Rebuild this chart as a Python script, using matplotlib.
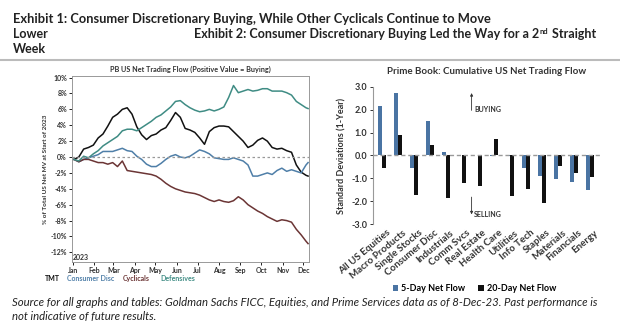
import numpy as np
import pandas as pd
from matplotlib import pyplot as plt
from matplotlib.lines import Line2D
from matplotlib.transforms import offset_copy

plt.rcParams['font.family'] = ['Lato', 'DejaVu Sans']

# ---- Exhibit 1: weekly readings of PB US net trading flow (% of net MV)
week_dates = list(pd.date_range('2023-01-03', '2023-12-05', freq='7D')) + [pd.Timestamp('2023-12-08')]

tmt = [-0.3, 0.0, 1.0, 1.2, 1.5, 2.4, 2.9, 3.9, 5.0, 5.4, 6.0, 6.2, 5.4, 3.8, 2.8, 2.2, 2.7,
       2.9, 3.4, 3.7, 4.6, 5.6, 5.0, 3.6, 3.4, 3.1, 2.4, 1.6, 3.2, 3.7, 3.9, 3.9, 3.8, 3.2,
       2.6, 2.0, 1.2, 1.5, 2.1, 2.4, 2.0, 1.2, 1.0, 1.1, 0.8, 0.6, -1.0, -1.9, -2.3, -2.4]
defensives = [-0.3, -0.5, 0.1, -0.1, 0.4, 0.8, 1.4, 1.8, 2.2, 2.6, 3.3, 3.5, 3.5, 3.3, 3.7,
              4.1, 4.5, 5.0, 5.3, 5.8, 6.3, 7.0, 7.1, 6.6, 6.2, 5.9, 5.7, 5.8, 6.0, 5.8, 6.0,
              6.3, 7.5, 9.0, 8.1, 8.3, 8.5, 8.3, 8.4, 8.6, 8.6, 8.3, 8.3, 8.3, 8.1, 7.8, 7.0,
              6.6, 6.2, 6.1]
consumer_disc = [-0.3, -0.6, -0.3, -0.1, 0.1, 0.3, 0.7, 0.7, 0.7, 0.9, 1.1, 0.8, 0.7, 0.1,
                 -0.3, -0.9, -1.2, -1.2, -0.8, -0.3, 0.1, 0.3, 0.0, -0.1, 0.1, 0.5, 0.9, 0.7,
                 0.4, -0.1, -0.2, -0.3, -0.3, -0.1, -0.3, -0.5, -1.0, -2.4, -2.4, -2.2, -2.0,
                 -2.2, -1.7, -1.4, -1.8, -1.6, -1.8, -2.0, -1.0, -0.7]
cyclicals = [-0.3, -0.6, -0.3, -0.3, -0.5, -0.7, -0.7, -0.9, -0.7, -1.2, -0.5, -1.7, -1.8,
             -1.9, -2.0, -2.1, -2.2, -2.4, -2.8, -3.3, -3.7, -4.0, -4.2, -4.4, -4.5, -4.6,
             -4.8, -5.1, -5.4, -5.6, -5.4, -5.6, -5.7, -5.5, -5.0, -5.4, -6.0, -6.4, -6.8,
             -7.1, -7.5, -7.8, -8.1, -7.9, -8.0, -8.2, -9.1, -9.8, -10.6, -10.9]

series_names = ['TMT', 'Consumer Disc', 'Cyclicals', 'Defensives']
series_colors = ['#111111', '#4f7fa8', '#6b3535', '#3f8c84']

# ---- Exhibit 2: prime book z-scores
sectors = ['All US Equities', 'Macro Products', 'Single Stocks', 'Consumer Disc', 'Industrials',
           'Comm Svcs', 'Real Estate', 'Health Care', 'Utilities', 'Info Tech', 'Staples',
           'Materials', 'Financials', 'Energy']
flow_5d = [2.15, 2.75, -0.55, 1.5, 0.15, 0.03, 0.0, -0.03, -0.02, -0.55, -0.9, -1.05, -1.18, -1.5]
flow_20d = [-0.55, 0.88, -1.72, 0.47, -1.85, -1.2, -1.33, 0.72, -1.78, -1.45, -2.1, -0.48, -0.75, -0.93]

fig = plt.figure(figsize=(6.2, 3.29), dpi=100)
renderer = fig.canvas.get_renderer()

# header / footer text
hdr = dict(fontsize=9, fontweight='bold', color='#222222', va='baseline')
fig.text(0.021, 0.93, 'Exhibit 1: Consumer Discretionary Buying, While Other Cyclicals Continue to Move',
         fontsize=9.3, fontweight='bold', color='#222222', va='baseline')
fig.text(0.021, 0.883, 'Lower', **hdr)
t = fig.text(0.313, 0.883, 'Exhibit 2: Consumer Discretionary Buying Led the Way for a 2', **hdr)
w1 = t.get_window_extent(renderer).width
sup = fig.text(0.313, 0.883, 'nd', fontsize=5.5, fontweight='bold', color='#222222', va='baseline',
               transform=offset_copy(fig.transFigure, fig=fig, x=w1 + 0.5, y=4, units='dots'))
w2 = sup.get_window_extent(renderer).width
fig.text(0.313, 0.883, ' Straight', transform=offset_copy(fig.transFigure, fig=fig, x=w1 + w2 + 1,
                                                          y=0, units='dots'), **hdr)
fig.text(0.021, 0.838, 'Week', **hdr)
fig.add_artist(Line2D([0, 1], [0.818, 0.818], color='#bbbbbb', lw=1.5, transform=fig.transFigure))
fig.text(0.019, 0.082, 'Source for all graphs and tables: Goldman Sachs FICC, Equities, and Prime Services '
         'data as of 8-Dec-23. Past performance is', fontsize=8.2, style='italic', color='#222222', va='center')
fig.text(0.019, 0.037, 'not indicative of future results.', fontsize=8.2, style='italic',
         color='#222222', va='center')

# ---- left chart
ax1 = fig.add_axes([0.116, 0.204, 0.382, 0.565])
for vals, name, col in zip([tmt, consumer_disc, cyclicals, defensives], series_names, series_colors):
    ax1.plot(week_dates, vals, color=col, lw=1.1, label=name)
ax1.axhline(0, color='#999999', lw=0.9, ls=(0, (2, 2)))
ax1.set_ylim(-13.2, 10.2)
ax1.set_yticks(np.arange(-12, 11, 2))
ax1.set_yticklabels(['%d%%' % v for v in np.arange(-12, 11, 2)])
ax1.set_xlim(pd.Timestamp('2022-12-31'), pd.Timestamp('2023-12-09'))
month_starts = pd.date_range('2023-01-01', '2023-12-01', freq='MS')
ax1.set_xticks(month_starts)
ax1.set_xticklabels([d.strftime('%b') for d in month_starts])
ax1.tick_params(labelsize=5, length=2, width=0.6, pad=1.5)
for lab in ax1.get_xticklabels() + ax1.get_yticklabels():
    lab.set_fontweight('bold')
    lab.set_color('#333333')
for sp in ax1.spines.values():
    sp.set_color('#999999')
    sp.set_linewidth(0.7)
ax1.set_ylabel('% of Total US Net MV at Start of 2023', fontsize=4.6, fontweight='bold',
               color='#333333', labelpad=2)
ax1.set_title('PB US Net Trading Flow (Positive Value = Buying)', fontsize=5.2, fontweight='bold',
              color='#333333', pad=3)
ax1.text(0.005, 0.01, '2023', transform=ax1.transAxes, fontsize=5, fontweight='bold', color='#333333')

# colored text legend
legend_x = [0.073, 0.108, 0.198, 0.258]
for x, name, col in zip(legend_x, series_names, series_colors):
    fig.text(x, 0.152, name, fontsize=5, fontweight='bold', color=col, va='center')

# ---- right chart
ax2 = fig.add_axes([0.602, 0.319, 0.365, 0.417])
xpos = np.arange(len(sectors))
w = 0.24
ax2.bar(xpos - w / 2 - 0.02, flow_5d, width=w, color='#4a74a3', label='5-Day Net Flow')
ax2.bar(xpos + w / 2 + 0.02, flow_20d, width=w, color='#111111', label='20-Day Net Flow')
ax2.axhline(0, color='#999999', lw=1.0, ls=(0, (3, 2)))
ax2.set_ylim(-3, 3)
ax2.set_xlim(-0.55, 13.6)
ax2.set_yticks(np.arange(-3, 3.1, 1))
ax2.set_yticklabels(['%.1f' % v for v in np.arange(-3, 3.1, 1)])
ax2.set_xticks(xpos + 0.25)
ax2.set_xticklabels(sectors, rotation=40, ha='right', rotation_mode='anchor')
ax2.tick_params(axis='x', length=0, labelsize=7, pad=3)
ax2.tick_params(axis='y', length=2.5, width=0.7, labelsize=6.5, pad=2, colors='#333333')
for lab in ax2.get_xticklabels() + ax2.get_yticklabels():
    lab.set_fontweight('bold')
    lab.set_color('#333333')
for s in ['top', 'right', 'bottom']:
    ax2.spines[s].set_visible(False)
ax2.spines['left'].set_color('#999999')
ax2.set_ylabel('Standard Deviations (1-Year)', fontsize=6.5, fontweight='bold', color='#333333', labelpad=3)
ax2.set_title('Prime Book: Cumulative US Net Trading Flow', fontsize=7, fontweight='bold',
              color='#333333', pad=9)

# buying / selling markers
ax2.annotate('', xy=(5.6, 2.85), xytext=(5.6, 1.85),
             arrowprops=dict(arrowstyle='-|>', color='#333333', lw=0.6, mutation_scale=4))
ax2.text(5.75, 2.02, 'BUYING', fontsize=5, fontweight='bold', color='#333333', va='center')
ax2.annotate('', xy=(5.6, -2.7), xytext=(5.6, -1.7),
             arrowprops=dict(arrowstyle='-|>', color='#333333', lw=0.6, mutation_scale=4))
ax2.text(5.75, -2.6, 'SELLING', fontsize=5, fontweight='bold', color='#333333', va='center')

ax2.legend(loc='center', bbox_to_anchor=(0.765, 0.122), bbox_transform=fig.transFigure, ncol=2,
           frameon=False, handlelength=0.6, handleheight=0.6, handletextpad=0.3,
           columnspacing=1.5, prop={'weight': 'bold', 'size': 6.5})

fig.savefig('out.png', dpi=100)
